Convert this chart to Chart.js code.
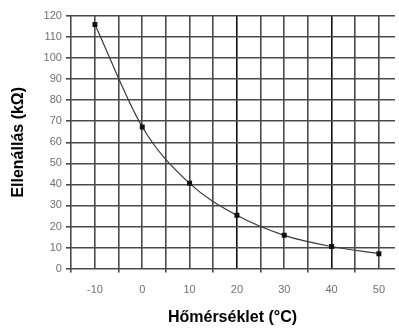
<!DOCTYPE html>
<html>
<head>
<meta charset="utf-8">
<script src="https://cdn.jsdelivr.net/npm/chart.js@4/dist/chart.umd.min.js"></script>
<style>
    html, body { margin: 0; padding: 0; background: #fff; }
    #chart { display: block; }
</style>
</head>
<body>
<canvas id="chart" width="399" height="329"></canvas>
<script>
// Data
const temperatures = [-10, 0, 10, 20, 30, 40, 50];
const resistance = [116, 67.3, 40.5, 25.3, 15.8, 10.5, 7.1];
const xTickValues = [-15, -10, -5, 0, 5, 10, 15, 20, 25, 30, 35, 40, 45, 50];
const yTickValues = [0, 10, 20, 30, 40, 50, 60, 70, 80, 90, 100, 110, 120];

const xTitle = 'Hőmérséklet (°C)';
const yTitle = 'Ellenállás (kΩ)';

const labelFont = { family: 'Liberation Sans, Arial, sans-serif', size: 11 };
const titleFont = { family: 'Liberation Sans, Arial, sans-serif', size: 16, weight: 'bold' };

const ctx = document.getElementById('chart').getContext('2d');
new Chart(ctx, {
    type: 'scatter',
    data: {
        datasets: [{
            data: temperatures.map((t, i) => ({ x: t, y: resistance[i] })),
            showLine: true,
            borderColor: '#3a3a3a',
            borderWidth: 1.2,
            tension: 0.4,
            cubicInterpolationMode: 'monotone',
            pointStyle: 'rect',
            pointRadius: 3.5,
            pointBackgroundColor: '#111',
            pointBorderColor: '#111',
            pointBorderWidth: 0
        }]
    },
    options: {
        responsive: false,
        animation: false,
        layout: { padding: { top: 16, right: 0, bottom: 2, left: 9 } },
        plugins: {
            legend: { display: false },
            tooltip: { enabled: false }
        },
        scales: {
            x: {
                type: 'linear',
                min: -15.28,
                max: 53.4,
                afterBuildTicks: (scale) => {
                    scale.ticks = xTickValues.map(v => ({ value: v }));
                },
                border: { display: false },
                grid: {
                    color: (c) => (c.tick && (c.tick.value === 20 || c.tick.value === 40)) ? '#111' : '#4a4a4a',
                    lineWidth: 1.6,
                    tickLength: 4,
                    tickColor: (c) => (c.tick && c.tick.value % 10 === 0) ? 'rgba(0,0,0,0)' : '#4a4a4a'
                },
                ticks: {
                    autoSkip: false,
                    maxRotation: 0,
                    color: '#707070',
                    font: labelFont,
                    padding: 11,
                    callback: (v) => (v % 10 === 0 ? String(v) : '')
                },
                title: {
                    display: true,
                    text: xTitle,
                    color: '#000',
                    font: titleFont,
                    padding: { top: 0, bottom: 0 }
                }
            },
            y: {
                min: 0,
                max: 120,
                afterBuildTicks: (scale) => {
                    scale.ticks = yTickValues.map(v => ({ value: v }));
                },
                border: { display: false },
                grid: {
                    color: '#4a4a4a',
                    lineWidth: 1.6,
                    tickLength: 4,
                    tickColor: '#4a4a4a'
                },
                ticks: {
                    color: '#707070',
                    font: labelFont,
                    padding: 4
                },
                title: {
                    display: true,
                    text: yTitle,
                    color: '#000',
                    font: titleFont,
                    padding: { top: 0, bottom: 11.4 }
                }
            }
        }
    }
});
</script>
</body>
</html>
